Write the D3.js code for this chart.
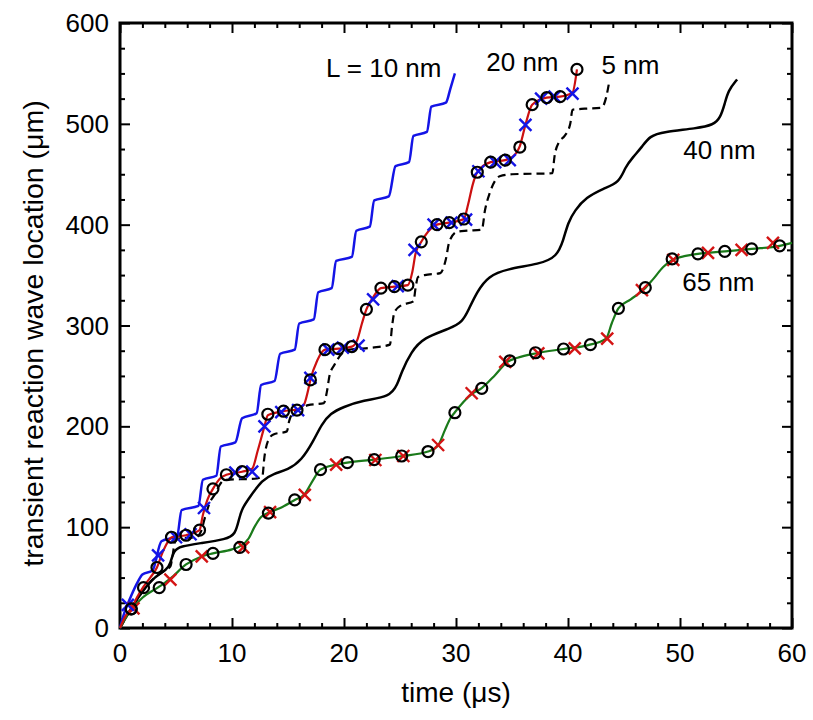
<!DOCTYPE html>
<html>
<head>
<meta charset="utf-8">
<script src="https://cdn.jsdelivr.net/npm/d3@7"></script>
<style>
  body { margin: 0; background: #fff; }
  svg { display: block; }
</style>
</head>
<body>
<svg></svg>
<script>
// time (us), location (um) pairs
const line10nm = [[0,0],[0.3,12],[1.0,32],[1.6,46],[2.0,53],[2.9,57],[3.7,86],[5.1,91],[5.5,117],
  [7.0,121],[7.4,147],[8.6,151],[9.0,180],[10.3,184],[10.9,208],[12.2,213],[12.6,241],
  [13.8,245],[14.3,272],[15.6,276],[16.0,302],[17.3,306],[17.7,333],[18.9,337],[19.3,364],
  [20.7,368],[21.1,394],[22.3,398],[22.7,424],[24.0,428],[24.6,458],[25.8,462],[26.2,488],
  [27.4,492],[27.8,517],[29.1,521],[29.5,535],[29.9,550]];

const line20nm = [[0,0],[0.5,12],[1.0,19],[1.5,30],[2.1,41],[2.7,50],[3.3,60],[3.8,75],[4.3,86],[4.6,90],[5.9,92],[7.1,97],[7.4,112],
  [7.8,127],[8.3,138],[9.0,149],[9.5,152],[10.9,155],[11.8,158],[12.3,176],[12.9,200],[13.2,211],[14.6,215],[15.8,217],[16.4,221],
  [16.8,236],[17.0,246],[17.6,265],[18.3,276],[19.5,277],[20.7,279],[21.2,286],[21.6,302],[22.0,316],[22.6,328],[23.3,337],[24.5,338.5],
  [25.7,340],[26.1,353],[26.4,372],[26.9,383],[27.5,393],[28.3,400],[29.4,402],[30.7,405.6],[31.1,421],[31.5,440],[31.9,452],[33.1,462],
  [34.4,464],[35.3,470],[35.7,478],[36.2,499],[36.8,519],[38.1,526],[39.3,527],[40.4,531],[40.8,554]];

const line5nm = [[0,0],[0.5,10],[1,19],[2,36],[3,49],[4,57],[4.5,61],[4.7,72],[4.9,85],[5.3,89],[6.8,90],[7.2,95],[7.6,110],[8.0,124],
  [8.5,133],[8.9,142],[9.4,147],[12.0,148],[12.7,150],[12.9,170],[13.2,185],[13.7,192],[14.9,195],[15.1,205],[15.4,213],[16.2,218],
  [16.8,221],[18.2,223],[18.5,236],[18.7,250],[19.2,262],[19.8,272],[20.5,276],[22.5,278],[24.1,281],[24.3,300],[24.5,313],[25.1,320],
  [26.2,324],[26.4,338],[26.6,348],[27.2,350],[28.6,352],[29.1,366],[29.4,383],[30.1,393],[31.0,394],[32.3,395],[32.6,415],[33.0,431],
  [33.9,448],[35,450],[38.6,451],[38.8,468],[39.2,482],[39.7,488],[40.2,500],[40.4,514],[41.5,515],[43.0,516],[43.4,526],[43.7,543]];

const line40nm = [[0,0],[1.0,20],[2.1,38],[3.1,51],[4.2,58],[4.5,64],[4.8,77],[5.4,81],[7.1,84],[9.5,88],[10.3,93],[10.6,107],
  [10.9,119],[11.6,130],[12.7,147],[13.7,153],[15.0,157],[16.2,166],[17.3,186],[18.0,202],[18.8,213],[19.9,219],[21.7,226],[24.1,229],
  [24.8,242],[25.1,253],[26.0,274],[27.1,288],[29.5,297],[30.6,304],[31.1,315],[31.9,334],[32.9,349],[34.5,356],[37.5,361],[39.0,368],
  [39.6,385],[40.0,402],[40.6,414],[41.6,427],[43.2,436],[44.6,442],[45.1,457],[45.8,467],[46.6,477],[47.3,488],[48.5,492],[51.5,495.5],
  [53.0,499],[53.6,506],[54.0,520],[54.3,533],[55.1,544]];

const line65nm = [[0,0],[0.5,10],[1.0,18],[2,30],[3.5,41],[4.5,49],[5.9,63],[7.3,71],[8.3,74],[10.0,78],[10.7,81],[11.5,89],[12.0,100],
  [12.6,110],[13.3,114.5],[14.5,120],[15.6,127],[16.5,133],[17.2,146],[17.9,157],[19.3,162],[20.3,164],[22.7,167],[25.2,170.6],
  [27.5,175],[28.4,181],[29.0,196],[29.5,208],[29.9,214],[31.4,232],[32.3,238],[33.5,251],[34.6,264],[35.5,268],[37.2,272.5],
  [39.6,276.7],[41.8,280.5],[43.4,287],[43.9,302],[44.5,317],[45.6,326],[46.8,336],[47.6,346],[48.5,358],[49.3,365],[50.5,369],
  [51.6,371],[54,373.5],[56.4,376],[58.9,379],[60,382]];

const circles20nm = [[1.0,19],[2.1,40],[3.3,60],[4.6,90],[5.9,92],[7.1,97],[8.3,138],[9.5,152],[10.9,155],[13.2,212],[14.6,215],
  [15.8,216],[17.0,246],[18.3,276],[19.5,277],[20.7,279],[22.0,316],[23.3,337],[24.5,338.5],[25.7,340],[26.9,383],[28.3,400],
  [29.4,402],[30.7,405.6],[31.9,452],[33.1,462],[34.4,464],[35.7,477],[36.8,519],[38.1,526],[39.3,527],[40.8,554]];

const crosses20nm = [[0.7,23],[3.4,72],[5.0,90],[6.3,93],[7.5,119],[10.3,154],[11.8,155],[12.9,200],[14.4,214],[15.9,216],[17.0,248],
  [18.6,276],[19.9,278],[21.3,280],[22.6,326],[24.8,339],[26.3,375],[28.0,400],[29.6,402],[30.9,405],[32.0,453],[33.5,462],[34.8,464],
  [36.2,499],[37.6,525],[38.8,527],[40.4,530]];

const circles65nm = [[1.0,19],[3.5,40],[5.9,63],[8.3,74],[10.7,80],[13.25,114],[15.6,127],[17.9,157],[20.3,164],[22.7,167],
  [25.15,170.6],[27.5,175],[29.9,213.5],[32.3,237.7],[34.8,265],[37.1,273],[39.6,276.7],[42.0,281],[44.5,317],[46.9,337.5],
  [49.3,366],[51.6,371],[54.0,373.5],[56.4,376],[58.9,379]];

const crosses65nm = [[1.2,19.5],[4.5,48],[7.3,71],[11.0,80],[13.4,115],[16.5,132],[19.3,162],[22.8,166.6],[25.3,170.6],[28.4,181.5],
  [31.4,232.8],[34.4,264],[37.35,272.4],[40.6,277.4],[43.5,287],[46.6,335],[49.4,365],[52.5,372],[55.5,375],[58.3,382]];

const xTicks = [0, 10, 20, 30, 40, 50, 60];
const yTicks = [0, 100, 200, 300, 400, 500, 600];

const labels = [
  { text: 'L = 10 nm', t: 18.4, z: 546 },
  { text: '20 nm', t: 32.7, z: 552 },
  { text: '5 nm', t: 43.0, z: 549 },
  { text: '40 nm', t: 50.3, z: 465 },
  { text: '65 nm', t: 50.2, z: 334 }];

const WIDTH = 813;
const HEIGHT = 720;
const LEFT = 120, RIGHT = 792, TOP = 23, BOTTOM = 628;
const FONT = '"Liberation Sans", Arial, sans-serif';

const svg = d3.select('svg').
  attr('width', WIDTH).
  attr('height', HEIGHT).
  attr('font-family', FONT);

const x = d3.scaleLinear().domain([0, 60]).range([LEFT, RIGHT]);
const y = d3.scaleLinear().domain([0, 600]).range([BOTTOM, TOP]);

const line = d3.line().
  x(d => x(d[0])).
  y(d => y(d[1])).
  curve(d3.curveMonotoneX);

// the wave-like 40 nm curve
const smoothLine = d3.line().
  x(d => x(d[0])).
  y(d => y(d[1])).
  curve(d3.curveBasis);

/* --AXES-- */
function frameAxis(axis, transform, major, minorStep, domainMax) {
  const minor = d3.range(0, domainMax + 0.001, minorStep).filter(v => !major.includes(v));
  svg.append('g').attr('transform', transform).
    call(axis.tickValues(major).tickSize(-10).tickFormat(''));
  svg.append('g').attr('transform', transform).
    call(axis.tickValues(minor).tickSize(-5).tickFormat(''));
}

frameAxis(d3.axisBottom(x), `translate(0,${BOTTOM})`, xTicks, 2, 60);
frameAxis(d3.axisTop(x), `translate(0,${TOP})`, xTicks, 2, 60);
frameAxis(d3.axisLeft(y), `translate(${LEFT},0)`, yTicks, 25, 600);
frameAxis(d3.axisRight(y), `translate(${RIGHT},0)`, yTicks, 25, 600);

svg.selectAll('.domain').attr('stroke', 'none');
svg.selectAll('.tick line').attr('stroke', '#000').attr('stroke-width', 2);

svg.append('rect').
  attr('x', LEFT).attr('y', TOP).
  attr('width', RIGHT - LEFT).attr('height', BOTTOM - TOP).
  attr('fill', 'none').attr('stroke', '#000').attr('stroke-width', 3);

svg.append('g').selectAll('text').
  data(xTicks).join('text').
  attr('x', d => x(d)).
  attr('y', BOTTOM + 34).
  attr('text-anchor', 'middle').
  attr('font-size', 26).
  text(d => d);

svg.append('g').selectAll('text').
  data(yTicks).join('text').
  attr('x', LEFT - 11).
  attr('y', d => y(d) + 9).
  attr('text-anchor', 'end').
  attr('font-size', 26).
  text(d => d);

svg.append('text').
  attr('x', (LEFT + RIGHT) / 2).
  attr('y', 702).
  attr('text-anchor', 'middle').
  attr('font-size', 28).
  text('time (μs)');

svg.append('text').
  attr('transform', `translate(43,${(TOP + BOTTOM) / 2 + 8}) rotate(-90)`).
  attr('text-anchor', 'middle').
  attr('font-size', 28.5).
  text('transient reaction wave location (μm)');

/* --LINES-- */
const plot = svg.append('g');

plot.append('path').datum(line40nm).
  attr('d', smoothLine).attr('fill', 'none').attr('stroke', '#000').attr('stroke-width', 2.5);

plot.append('path').datum(line5nm).
  attr('d', line).attr('fill', 'none').attr('stroke', '#000').attr('stroke-width', 2.2).
  attr('stroke-dasharray', '8,5');

plot.append('path').datum(line10nm).
  attr('d', line).attr('fill', 'none').attr('stroke', '#1414e6').attr('stroke-width', 2.5);

plot.append('path').datum(line65nm).
  attr('d', line).attr('fill', 'none').attr('stroke', '#1a7a1a').attr('stroke-width', 2.2);

plot.append('path').datum(line20nm).
  attr('d', line).attr('fill', 'none').attr('stroke', '#cc1010').attr('stroke-width', 2.2);

/* --MARKERS-- */
function crosses(data, color) {
  const s = 6;
  plot.append('g').selectAll('path').
    data(data).join('path').
    attr('d', d => {
      const cx = x(d[0]), cy = y(d[1]);
      return `M${cx - s},${cy - s}L${cx + s},${cy + s}M${cx - s},${cy + s}L${cx + s},${cy - s}`;
    }).
    attr('stroke', color).attr('stroke-width', 2.4).attr('fill', 'none');
}

function circles(data) {
  plot.append('g').selectAll('circle').
    data(data).join('circle').
    attr('cx', d => x(d[0])).
    attr('cy', d => y(d[1])).
    attr('r', 5.5).
    attr('fill', 'none').attr('stroke', '#000').attr('stroke-width', 2.2);
}

crosses(crosses65nm, '#d41414');
circles(circles65nm);
crosses(crosses20nm, '#1414e6');
circles(circles20nm);

/* --LABELS-- */
svg.append('g').selectAll('text').
  data(labels).join('text').
  attr('x', d => x(d.t)).
  attr('y', d => y(d.z)).
  attr('font-size', 26).
  text(d => d.text);
</script>
</body>
</html>
